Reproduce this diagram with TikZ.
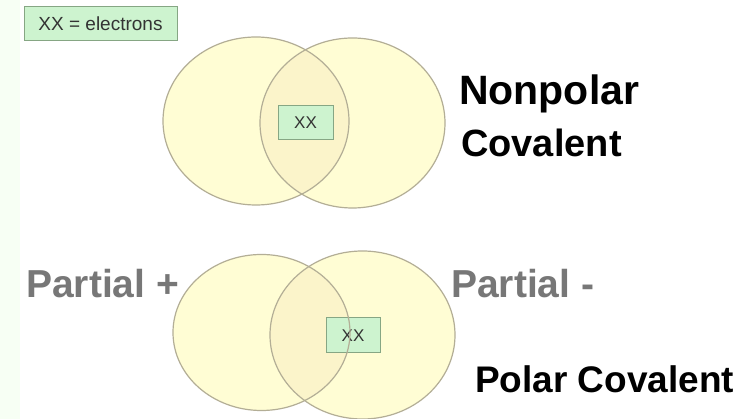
\documentclass[tikz,border=0pt]{standalone}
\usepackage{fontspec}
\setmainfont{Liberation Sans}
\definecolor{orbfill}{HTML}{FFFDD4}
\definecolor{lapfill}{HTML}{FBF4CA}
\definecolor{orbline}{HTML}{B3AE96}
\definecolor{boxfill}{HTML}{CDF3CF}
\definecolor{boxline}{HTML}{86A684}
\definecolor{labelgray}{HTML}{777777}
\definecolor{stripgreen}{HTML}{F7FFF4}
\tikzset{
  orb/.style={fill=orbfill},
  orbedge/.style={draw=orbline, line width=1.2pt},
  ebox/.style={draw=boxline, fill=boxfill, line width=1pt, inner sep=0pt,
    font=\fontsize{17}{17}\selectfont, text=black!80},
  bigbold/.style={anchor=base west, inner sep=0pt, font=\bfseries},
}
\begin{document}
\begin{tikzpicture}[x=1pt,y=-1pt]
\useasboundingbox (0,0) rectangle (740,419);
\fill[white] (0,0) rectangle (740,419);
\fill[stripgreen] (0,0) rectangle (20,419);

% legend
\node[ebox, minimum width=153pt, minimum height=34pt,
  font=\fontsize{19}{19}\selectfont] (legend) at (100.5,24) {XX = electrons};

% nonpolar pair of atoms
\fill[orb] (256,121) ellipse [x radius=93pt, y radius=84pt];
\fill[orb] (352.5,123) ellipse [x radius=92.5pt, y radius=85pt];
\begin{scope}
  \clip (256,121) ellipse [x radius=93pt, y radius=84pt];
  \fill[lapfill] (352.5,123) ellipse [x radius=92.5pt, y radius=85pt];
\end{scope}
\node[ebox, minimum width=55pt, minimum height=34pt] (xxtop) at (305.5,123) {XX};
\draw[orbedge] (256,121) ellipse [x radius=93pt, y radius=84pt];
\draw[orbedge] (352.5,123) ellipse [x radius=92.5pt, y radius=85pt];

% polar pair of atoms
\fill[orb] (261.5,332.5) ellipse [x radius=88.5pt, y radius=78pt];
\fill[orb] (362.5,335) ellipse [x radius=92.5pt, y radius=84pt];
\begin{scope}
  \clip (261.5,332.5) ellipse [x radius=88.5pt, y radius=78pt];
  \fill[lapfill] (362.5,335) ellipse [x radius=92.5pt, y radius=84pt];
\end{scope}
\node[ebox, minimum width=54pt, minimum height=35pt] (xxbot) at (353,335.5) {XX};
\draw[orbedge] (261.5,332.5) ellipse [x radius=88.5pt, y radius=78pt];
\draw[orbedge] (362.5,335) ellipse [x radius=92.5pt, y radius=84pt];

% labels
\node[bigbold, font=\bfseries\fontsize{41}{41}\selectfont] (nonpolar) at (459,105) {Nonpolar};
\node[bigbold, font=\bfseries\fontsize{38}{38}\selectfont] (covalent) at (461,157) {Covalent};
\node[bigbold, text=labelgray, font=\bfseries\fontsize{39}{39}\selectfont] (pplus) at (26,298) {Partial +};
\node[bigbold, text=labelgray, font=\bfseries\fontsize{39}{39}\selectfont] (pminus) at (451,298) {Partial -};
\node[bigbold, font=\bfseries\fontsize{37}{37}\selectfont] (polar) at (475,393) {Polar Covalent};
\end{tikzpicture}
\end{document}
